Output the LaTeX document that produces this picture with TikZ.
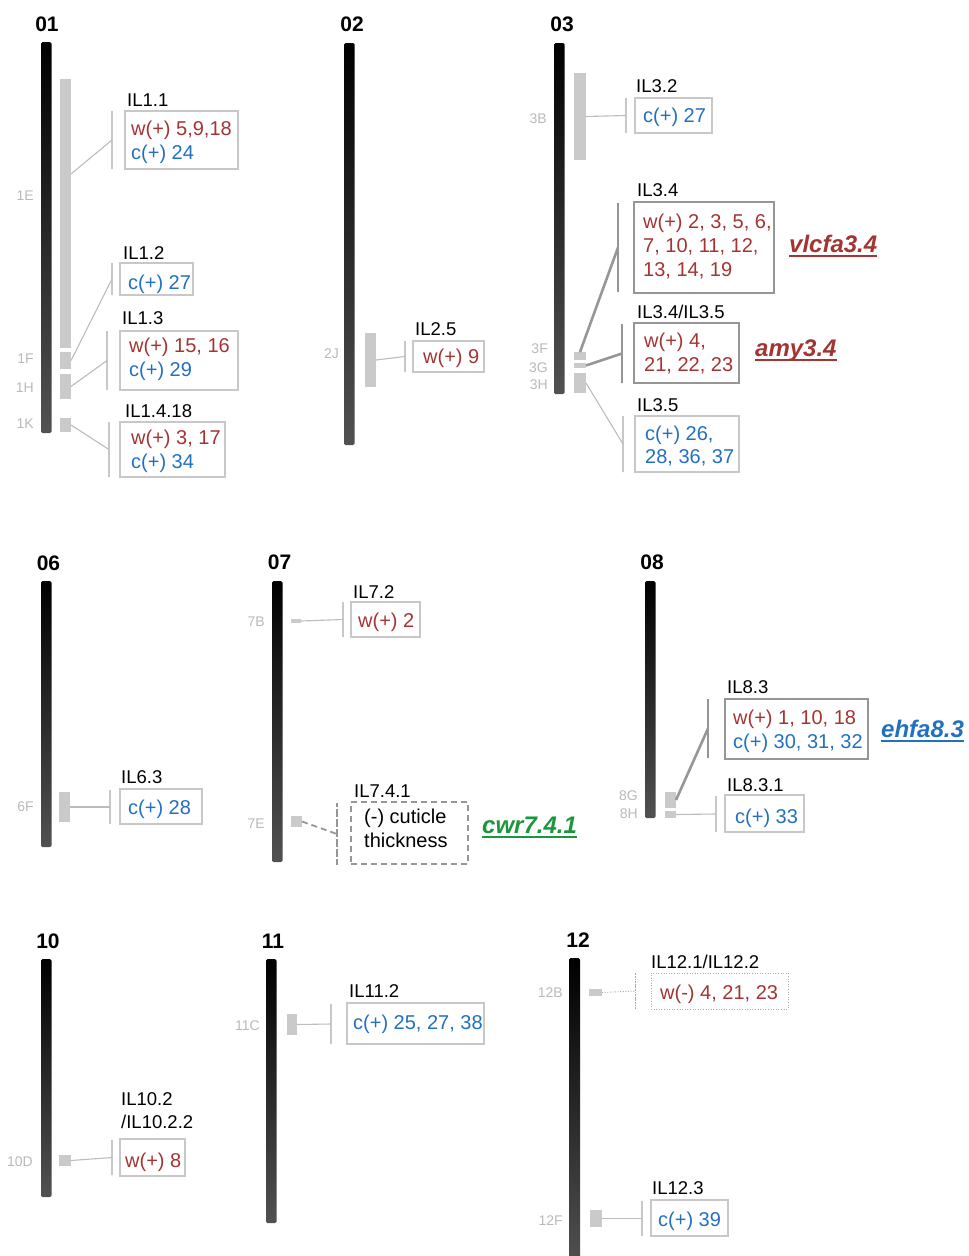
\documentclass[tikz,border=0pt]{standalone}
\usepackage{fontspec}
\setmainfont{Liberation Sans}
\usetikzlibrary{calc}
\definecolor{wred}{RGB}{163,52,50}
\definecolor{cblue}{RGB}{34,112,192}
\definecolor{qgreen}{RGB}{28,150,60}
\definecolor{segc}{RGB}{202,202,202}
\definecolor{boxc}{RGB}{200,200,200}
\definecolor{hic}{RGB}{150,150,150}
\definecolor{linkc}{RGB}{188,188,188}
\definecolor{bandc}{RGB}{185,185,185}

% rectangle node given by its corners: style, x1, y1, x2, y2, name
\newcommand\placebox[6]{\node[#1, minimum width={#4-#2}, minimum height={#5-#3}] (#6) at (#2,#3) {};}
% vertical bracket line: style, x, y1, y2, name
\newcommand\placebrk[5]{\node[#1, minimum height={#4-#3}] (#5) at (#2,{(#3+#4)/2}) {};}

\tikzset{
  chrom/.style={shade, top color=black, middle color=black!97, bottom color=black!68,
    rounded corners=1.5pt, inner sep=0pt, outer sep=0pt, anchor=north west},
  seg/.style={fill=segc, inner sep=0pt, outer sep=0pt, anchor=north west},
  box/.style={draw=boxc, line width=1.1pt, inner sep=0pt, outer sep=0pt, anchor=north west},
  hbox/.style={draw=hic, line width=2.6pt, inner sep=0pt, outer sep=0pt, anchor=north west},
  dbox/.style={draw=hic, line width=1.8pt, dash pattern=on 6pt off 4pt, inner sep=0pt, outer sep=0pt, anchor=north west},
  obox/.style={draw=hic!80, line width=0.9pt, dash pattern=on 1pt off 1.6pt, inner sep=0pt, outer sep=0pt, anchor=north west},
  brk/.style={draw=boxc, line width=1.2pt, inner sep=0pt, outer sep=0pt, minimum width=0pt},
  hbrk/.style={draw=hic, line width=2.6pt, inner sep=0pt, outer sep=0pt, minimum width=0pt},
  dbrk/.style={draw=hic, line width=1.8pt, dash pattern=on 6pt off 4pt, inner sep=0pt, outer sep=0pt, minimum width=0pt},
  obrk/.style={draw=hic!80, line width=0.9pt, dash pattern=on 1pt off 1.6pt, inner sep=0pt, outer sep=0pt, minimum width=0pt},
  link/.style={draw=linkc, line width=1.1pt},
  hlink/.style={draw=hic, line width=2.6pt},
  dlink/.style={draw=hic, line width=1.8pt, dash pattern=on 6pt off 4pt},
  olink/.style={draw=hic!80, line width=0.9pt, dash pattern=on 1pt off 1.6pt},
  btxt/.style={inner sep=0pt, anchor=base west, font=\fontsize{20}{24}\selectfont},
  wt/.style={btxt, text=wred},
  ct/.style={btxt, text=cblue},
  kt/.style={btxt, text=black},
  lab/.style={inner sep=0pt, anchor=base west, font=\fontsize{18.5}{22}\selectfont},
  band/.style={inner sep=0pt, anchor=base east, text=bandc, font=\fontsize{14}{16}\selectfont},
  cnum/.style={inner sep=0pt, anchor=base, font=\bfseries\fontsize{21}{24}\selectfont},
  qtl/.style={inner sep=0pt, anchor=base west, font=\bfseries\itshape\fontsize{24}{27}\selectfont},
}

\begin{document}
\begin{tikzpicture}[x=1pt,y=-1pt]
\useasboundingbox (0,0) rectangle (969,1256);

% ---------- chromosome bars ----------
\node[chrom, minimum width=10.5, minimum height=391] (c01) at (41,42) {};
\node[chrom, minimum width=10.5, minimum height=402] (c02) at (344,43) {};
\node[chrom, minimum width=10.5, minimum height=351] (c03) at (554,43) {};
\node[chrom, minimum width=10.5, minimum height=266] (c06) at (41,581) {};
\node[chrom, minimum width=10.5, minimum height=281] (c07) at (272,581) {};
\node[chrom, minimum width=10.5, minimum height=237] (c08) at (645,581) {};
\node[chrom, minimum width=10.5, minimum height=238] (c10) at (41,959) {};
\node[chrom, minimum width=10.5, minimum height=264] (c11) at (266,959) {};
\node[chrom, minimum width=11, minimum height=310] (c12) at (569,958) {};

\node[cnum] (n01) at (47,31) {01};
\node[cnum] (n02) at (352,31) {02};
\node[cnum] (n03) at (562,31) {03};
\node[cnum] (n06) at (48.5,570) {06};
\node[cnum] (n07) at (279.5,569) {07};
\node[cnum] (n08) at (652,569) {08};
\node[cnum] (n10) at (48,948) {10};
\node[cnum] (n11) at (273,948) {11};
\node[cnum] (n12) at (578,947) {12};

% ---------- introgression segments ----------
\placebox{seg}{60}{79}{71}{348}{s1E}
\placebox{seg}{60}{352}{71}{369}{s1F}
\placebox{seg}{60}{374}{71}{399}{s1H}
\placebox{seg}{60}{418}{71}{432}{s1K}
\placebox{seg}{365}{333}{376}{387}{s2J}
\placebox{seg}{574}{73}{586}{160}{s3B}
\placebox{seg}{574}{352}{586}{360}{s3F}
\placebox{seg}{574}{363}{586}{368}{s3G}
\placebox{seg}{574}{373}{586}{393}{s3H}
\placebox{seg}{59}{792}{70}{822}{s6F}
\placebox{seg}{291}{619}{301}{623}{s7B}
\placebox{seg}{291}{816}{302}{827}{s7E}
\placebox{seg}{665}{792}{676}{808}{s8G}
\placebox{seg}{665}{811}{676}{818}{s8H}
\placebox{seg}{59}{1155}{71}{1166}{s10D}
\placebox{seg}{287}{1014}{297}{1035}{s11C}
\placebox{seg}{589}{989}{602}{996}{s12B}
\placebox{seg}{590}{1210}{602}{1227}{s12F}

% bin labels
\node[band] (l1E) at (34,200) {1E};
\node[band] (l1F) at (34,363) {1F};
\node[band] (l1H) at (34,392) {1H};
\node[band] (l1K) at (34,428) {1K};
\node[band] (l2J) at (339,358) {2J};
\node[band] (l3B) at (547,123) {3B};
\node[band] (l3F) at (548,353) {3F};
\node[band] (l3G) at (548,372) {3G};
\node[band] (l3H) at (548,389) {3H};
\node[band] (l6F) at (34,811) {6F};
\node[band] (l7B) at (265,626) {7B};
\node[band] (l7E) at (265,828) {7E};
\node[band] (l8G) at (638,800) {8G};
\node[band] (l8H) at (638,818) {8H};
\node[band] (l10D) at (33,1166) {10D};
\node[band] (l11C) at (260,1030) {11C};
\node[band] (l12B) at (563,997) {12B};
\node[band] (l12F) at (563,1225) {12F};

% ---------- result boxes ----------
\placebox{box}{125}{111}{238}{169}{b11}
\placebox{box}{120}{263}{193}{295}{b12}
\placebox{box}{120}{331}{238}{390}{b13}
\placebox{box}{120}{422}{225}{477}{b14}
\placebox{box}{413}{341}{484}{372}{b25}
\placebox{box}{635}{98}{712}{133}{b32}
\placebox{hbox}{634}{202}{774}{293}{b34}
\placebox{hbox}{634}{323}{739}{383}{b345}
\placebox{box}{635}{416}{739}{472}{b35}
\placebox{box}{120}{789}{202}{824}{b63}
\placebox{box}{351}{602}{420}{637}{b72}
\placebox{dbox}{351}{802}{468}{864}{b741}
\placebox{hbox}{725}{699}{868}{759}{b83}
\placebox{box}{725}{795}{804}{832}{b831}
\placebox{box}{120}{1139}{185}{1176}{b102}
\placebox{box}{347}{1003}{484}{1044}{b112}
\placebox{obox}{651}{973}{788}{1009}{b121}
\placebox{box}{651}{1200}{728}{1236}{b123}

% brackets
\placebrk{brk}{112}{111}{169}{k11}
\placebrk{brk}{112}{263}{295}{k12}
\placebrk{brk}{107}{331}{390}{k13}
\placebrk{brk}{109}{422}{477}{k14}
\placebrk{brk}{405}{341}{372}{k25}
\placebrk{brk}{626}{98}{133}{k32}
\placebrk{hbrk}{618}{203}{292}{k34}
\placebrk{hbrk}{622}{324}{383}{k345}
\placebrk{brk}{623}{416}{472}{k35}
\placebrk{brk}{110}{790}{824}{k63}
\placebrk{brk}{343}{602}{637}{k72}
\placebrk{dbrk}{337}{803}{865}{k741}
\placebrk{hbrk}{708}{699}{758}{k83}
\placebrk{brk}{716}{796}{832}{k831}
\placebrk{brk}{112}{1140}{1175}{k102}
\placebrk{brk}{331}{1004}{1044}{k112}
\placebrk{obrk}{635}{973}{1009}{k121}
\placebrk{brk}{642}{1201}{1236}{k123}

% connectors
\draw[link] ($(s1E.north east)+(0,95)$) -- (k11.center);
\draw[link] (s1F.east) -- (k12.center);
\draw[link] (s1H.east) -- (k13.center);
\draw[link] (s1K.east) -- (k14.center);
\draw[link] (s2J.east) -- (k25.center);
\draw[link] (s3B.east) -- (k32.center);
\draw[hlink] (s3F.north) -- (k34.center);
\draw[hlink] (s3G.east) -- (k345.center);
\draw[link] (s3H.east) -- (k35.center);
\draw[link] (s6F.east) -- (k63.center);
\draw[link] (s7B.east) -- (k72.center);
\draw[dlink] (s7E.east) -- (k741.center);
\draw[hlink] (s8G.east) -- (k83.center);
\draw[link] (s8H.east) -- (k831.center);
\draw[link] (s10D.east) -- (k102.center);
\draw[link] (s11C.east) -- (k112.center);
\draw[olink] (s12B.east) -- (k121.center);
\draw[link] (s12F.east) -- (k123.center);

% ---------- line names ----------
\node[lab] (i11) at (127,106) {IL1.1};
\node[lab] (i12) at (123,259) {IL1.2};
\node[lab] (i13) at (122,324) {IL1.3};
\node[lab] (i14) at (125,417) {IL1.4.18};
\node[lab] (i25) at (415,335) {IL2.5};
\node[lab] (i32) at (636,92) {IL3.2};
\node[lab] (i34) at (637,196) {IL3.4};
\node[lab] (i345) at (637,318) {IL3.4/IL3.5};
\node[lab] (i35) at (637,411) {IL3.5};
\node[lab] (i63) at (121,783) {IL6.3};
\node[lab] (i72) at (353,598) {IL7.2};
\node[lab] (i741) at (354,797) {IL7.4.1};
\node[lab] (i83) at (727,693) {IL8.3};
\node[lab] (i831) at (727,791) {IL8.3.1};
\node[lab] (i102a) at (121,1105) {IL10.2};
\node[lab] (i102b) at (121,1128) {/IL10.2.2};
\node[lab] (i112) at (349,997) {IL11.2};
\node[lab] (i121) at (651,968) {IL12.1/IL12.2};
\node[lab] (i123) at (652,1194) {IL12.3};

% ---------- box contents ----------
\node[wt] (t11a) at (131,135) {w(+) 5,9,18};
\node[ct] (t11b) at (131,159) {c(+) 24};
\node[ct] (t12a) at (128,289) {c(+) 27};
\node[wt] (t13a) at (129,352) {w(+) 15, 16};
\node[ct] (t13b) at (129,376) {c(+) 29};
\node[wt] (t14a) at (131,444) {w(+) 3, 17};
\node[ct] (t14b) at (131,468) {c(+) 34};
\node[wt] (t25a) at (423,363) {w(+) 9};
\node[ct] (t32a) at (643,122) {c(+) 27};
\node[wt] (t34a) at (643,228) {w(+) 2, 3, 5, 6,};
\node[wt] (t34b) at (643,252) {7, 10, 11, 12,};
\node[wt] (t34c) at (643,276) {13, 14, 19};
\node[wt] (t345a) at (644,347) {w(+) 4,};
\node[wt] (t345b) at (644,371) {21, 22, 23};
\node[ct] (t35a) at (645,440) {c(+) 26,};
\node[ct] (t35b) at (645,463) {28, 36, 37};
\node[ct] (t63a) at (128,814) {c(+) 28};
\node[wt] (t72a) at (358,627) {w(+) 2};
\node[kt] (t741a) at (364,823) {(-) cuticle};
\node[kt] (t741b) at (364,847) {thickness};
\node[wt] (t83a) at (733,724) {w(+) 1, 10, 18};
\node[ct] (t83b) at (733,748) {c(+) 30, 31, 32};
\node[ct] (t831a) at (735,823) {c(+) 33};
\node[wt] (t102a) at (125,1167) {w(+) 8};
\node[ct] (t112a) at (353,1029) {c(+) 25, 27, 38};
\node[wt] (t121a) at (660,999) {w(-) 4, 21, 23};
\node[ct] (t123a) at (658,1226) {c(+) 39};

% ---------- QTL names ----------
\node[qtl, text=wred] (q34) at (789,252) {vlcfa3.4};
\node[qtl, text=wred] (q345) at (755,356) {amy3.4};
\node[qtl, text=qgreen] (q741) at (482,833) {cwr7.4.1};
\node[qtl, text=cblue] (q83) at (881,737) {ehfa8.3};
\foreach \q/\c in {q34/wred, q345/wred, q741/qgreen, q83/cblue}
  \draw[\c, line width=1.8pt] ([yshift=-4pt]\q.base west) -- ([yshift=-4pt]\q.base east);
\end{tikzpicture}
\end{document}
